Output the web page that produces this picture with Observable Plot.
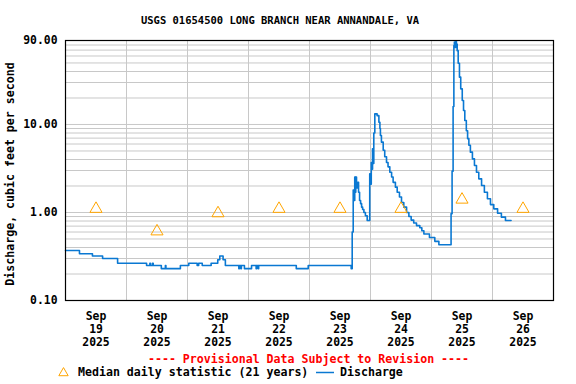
<!DOCTYPE html>
<html><head><meta charset="utf-8">
<script src="https://cdn.jsdelivr.net/npm/d3@7"></script>
<script src="https://cdn.jsdelivr.net/npm/@observablehq/plot@0.6"></script>
<style>
body{margin:0;background:#fff;}
#wrap{position:relative;width:576px;height:384px;font-family:"DejaVu Sans Mono",monospace;font-weight:bold;color:#000;}
#wrap svg{position:absolute;left:0;top:0;}
.t{position:absolute;white-space:pre;line-height:1;}
</style></head><body><div id="wrap"></div>
<script>
const title = "USGS 01654500 LONG BRANCH NEAR ANNANDALE, VA";
const yLabel = "Discharge, cubic feet per second";
const note = "---- Provisional Data Subject to Revision ----";
const legendMedian = "Median daily statistic (21 years)";
const legendFlow = "Discharge";
const startISO = "2025-09-19T00:00Z";
const endISO = "2025-09-27T00:00Z";
const dayLabels = ["19","20","21","22","23","24","25","26"];
const monthLabel = "Sep";
const yearLabel = "2025";
const medianValues = [1.1, 0.61, 0.98, 1.1, 1.1, 1.1, 1.4, 1.1];
const yTickValues = [0.1, 1, 10, 90];
const yGridValues = [0.2,0.3,0.4,0.5,0.6,0.7,0.8,0.9,1,2,3,4,5,6,7,8,9,10,20,30,40,50,60,70,80];
// hours since Sep 19 00:00 and discharge (cfs)
const flowHours = [0,5.5,10.6,14.6,20.5,31.9,33.2,33.4,34.2,34.5,37.7,39.3,39.5,45.2,48.5,51.8,52.4,53.8,57.3,59.9,60.7,62.0,62.9,68.2,68.4,69.0,69.2,70.4,73.2,75.0,75.2,75.8,76.0,90.8,95.5,112.4,
  112.8,113.2,113.4,113.8,114.1,114.2,114.5,115.0,115.3,115.7,116.1,116.5,116.9,117.4,118.0,118.7,
  119.7,120.0,120.3,120.5,120.8,121.1,121.3,121.7,122.6,123.3,123.7,123.9,124.3,125.0,125.6,126.3,126.9,127.6,128.3,128.9,129.8,130.5,131.4,132.2,133.1,134.2,135.1,136.0,137.0,138.1,139.4,140.2,141.0,143.2,145.3,146.9,
  151.7,152.1,152.5,152.8,153.0,153.3,153.6,153.8,154.1,154.5,155.0,155.5,156.1,156.6,157.1,157.7,158.2,158.7,159.3,160.1,160.9,161.7,162.6,163.7,164.8,166.0,167.2,168.5,170.0,171.5,173.1,175.3];
const flowValues = [0.37,0.34,0.32,0.30,0.265,0.25,0.265,0.25,0.265,0.25,0.23,0.25,0.23,0.25,0.265,0.25,0.265,0.25,0.265,0.29,0.32,0.29,0.25,0.23,0.25,0.23,0.25,0.23,0.25,0.23,0.25,0.23,0.25,0.23,0.25,0.23,
  0.60,1.8,1.37,2.52,1.7,2.52,1.9,2.2,1.7,1.37,1.26,1.15,1.08,1.0,0.92,0.81,
  2.75,2.1,3.7,3.1,5.3,3.6,8.0,13.2,12.6,10.6,9.0,7.5,6.3,5.1,4.3,3.7,3.3,2.87,2.53,2.2,1.94,1.7,1.5,1.3,1.15,1.0,0.9,0.82,0.76,0.71,0.67,0.62,0.57,0.52,0.47,0.43,
  0.97,2.95,16,79,86.5,75,88,82,69,49.7,34.5,25.4,18.7,14.4,11.1,8.5,6.9,5.8,4.85,4.07,3.42,2.87,2.41,2.03,1.70,1.43,1.23,1.10,0.98,0.885,0.81,0.81];

const t0 = new Date(startISO).getTime();
const flow = flowHours.map((h, i) => ({date: new Date(t0 + h * 3600e3), value: flowValues[i]}));
const days = dayLabels.map((d, i) => ({date: new Date(`2025-09-${d}T12:00Z`), label: d, median: medianValues[i]}));
const midnights = dayLabels.slice(1).map(d => new Date(`2025-09-${d}T00:00Z`));

const blue = "#0a78d2", orange = "#ffa500", grid = "#c8c8c8";

const chart = Plot.plot({
  width: 576, height: 384,
  marginLeft: 65, marginRight: 23, marginTop: 40, marginBottom: 84,
  style: {fontFamily: "DejaVu Sans Mono, monospace", fontSize: "11.4px", fontWeight: "bold", background: "white", overflow: "visible"},
  x: {type: "utc", domain: [new Date(startISO), new Date(endISO)], axis: null},
  y: {type: "log", domain: [0.1, 90], axis: null},
  marks: [
    Plot.gridY(yGridValues, {stroke: grid, strokeOpacity: 1}),
    Plot.gridX(midnights, {stroke: grid, strokeOpacity: 1}),
    Plot.line(flow, {x: "date", y: "value", curve: "step-after", stroke: blue, strokeWidth: 1.6}),
    Plot.dot(days, {x: "date", y: "median", symbol: "triangle", r: 4.5, stroke: orange, fill: "none", strokeWidth: 1}),
    Plot.frame({stroke: "black", strokeWidth: 1.2}),
    Plot.text(yTickValues, {y: d => d, text: d => d3.format(".2f")(d), frameAnchor: "left", textAnchor: "end", dx: -8, fill: "black"}),
    Plot.text(days, {x: "date", text: d => `${monthLabel}\n${d.label}\n${yearLabel}`, frameAnchor: "bottom", lineAnchor: "top", dy: 10, lineHeight: 1.14, fill: "black"})
  ]
});
const wrap = document.getElementById("wrap");
wrap.appendChild(chart);

function addText(txt, css) {
  const el = document.createElement("div");
  el.className = "t";
  el.textContent = txt;
  Object.assign(el.style, css);
  wrap.appendChild(el);
  return el;
}
addText(title, {left: "0px", width: "560px", textAlign: "center", top: "15px", fontSize: "10.5px"});
addText(yLabel, {left: "11px", top: "174px", fontSize: "11.6px", transform: "translate(-50%,-50%) rotate(-90deg)"});
addText(note, {left: "0px", width: "617px", textAlign: "center", top: "354px", fontSize: "11.6px", color: "#ff0000"});
addText(legendMedian, {left: "78px", top: "367px", fontSize: "11.6px"});
addText(legendFlow, {left: "340px", top: "367px", fontSize: "11.6px"});
// legend symbols
const ls = d3.create("svg").attr("width", 576).attr("height", 384).style("pointer-events", "none");
ls.append("path").attr("d", d3.symbol(d3.symbolTriangle2, Math.PI * 20)()).attr("transform", "translate(63.5,373)").attr("fill", "none").attr("stroke", orange).attr("stroke-width", 1);
ls.append("line").attr("x1", 316).attr("x2", 334).attr("y1", 372.5).attr("y2", 372.5).attr("stroke", blue).attr("stroke-width", 1.5);
wrap.appendChild(ls.node());
</script></body></html>
